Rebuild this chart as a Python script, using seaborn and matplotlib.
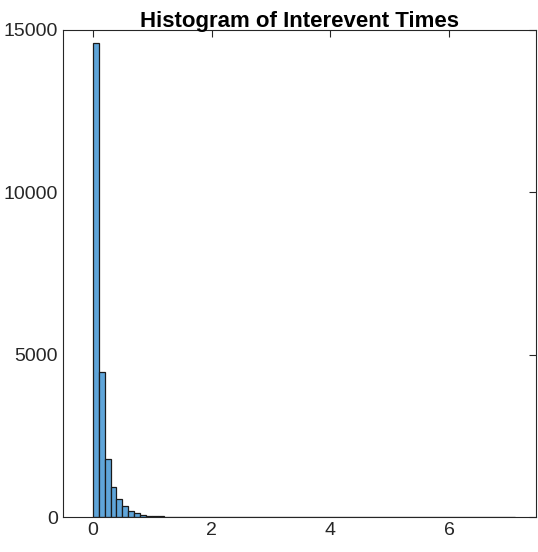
import numpy as np
import pandas as pd
import matplotlib
matplotlib.use("Agg")
import matplotlib.pyplot as plt
import seaborn as sns

sns.set_style("white")
plt.rcParams['font.family'] = ['Liberation Sans', 'DejaVu Sans']

bin_width = 0.1
head_counts = [14600, 4480, 1800, 930, 550, 340, 190, 120, 70, 45, 28, 18, 12, 8, 6, 4, 3, 2, 2, 1]
tail_counts = [1, 1, 0, 1, 0, 0, 1, 0, 0, 0, 1, 0, 0, 0, 0, 1, 0, 0, 0, 0,
               1, 0, 0, 0, 0, 0, 1, 0, 0, 0, 0, 0, 0, 0, 1, 0, 0, 0, 0, 0,
               0, 0, 1, 0, 0, 0, 0, 0, 0, 0, 1]
counts = np.array(head_counts + tail_counts, dtype=float)
nbins = len(counts)
centers = (np.arange(nbins) + 0.5) * bin_width
df = pd.DataFrame({"t": centers, "n": counts})

fig = plt.figure(figsize=(5.38, 5.52), dpi=100)
ax = fig.add_axes([63/538, 1-517/552, (536-63)/538, (517-30)/552])
sns.histplot(data=df, x="t", weights="n", binwidth=bin_width, binrange=(0, nbins * bin_width),
             color="#5fa5d9", alpha=1, edgecolor="#1a1a1a", linewidth=0.9, ax=ax)
ax.set_xlim(-0.5, 7.46)
ax.set_ylim(0, 15000)
ax.set_xticks([0, 2, 4, 6])
ax.set_yticks([0, 5000, 10000, 15000])
ax.set_xlabel("")
ax.set_ylabel("")
ax.tick_params(direction="in", top=True, right=True, labelsize=14, length=5, colors="#262626")
for s in ax.spines.values():
    s.set_color("#262626")
    s.set_linewidth(0.8)
ax.set_title("Histogram of Interevent Times", fontsize=16, fontweight="bold", pad=2, color="black")
fig.savefig("out.png", dpi=100)
